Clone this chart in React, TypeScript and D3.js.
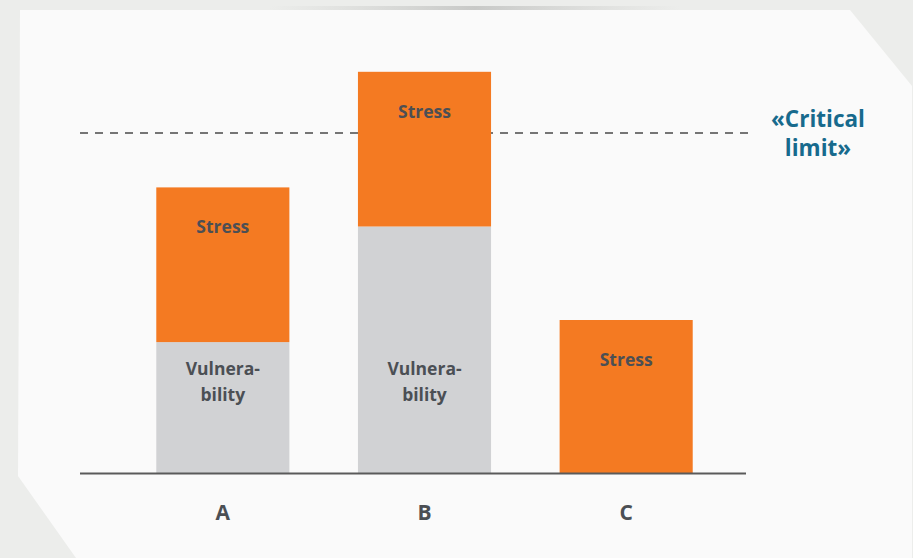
import React from 'react';
import * as d3 from 'd3';

// chart values (arbitrary units, critical limit = 10)
const categories = ['A', 'B', 'C'];
const vulnerability = [3.85, 7.25, 0];
const stress = [4.55, 4.55, 4.5];
const criticalLimit = 10;
const segmentLabels = ['Stress', 'Vulnera-', 'bility'];
const limitLabel = ['«Critical', 'limit»'];

const width = 913;
const height = 558;
const baseY = 473;

const ORANGE = '#f47a22';
const GREY = '#d1d2d4';
const TEXT = '#4b4f54';
const TEAL = '#176a8d';

function App() {
  const x = d3.scaleBand<string>()
    .domain(categories)
    .range([122, 727])
    .paddingInner(0.34)
    .paddingOuter(0.17);

  const y = d3.scaleLinear()
    .domain([0, criticalLimit])
    .range([baseY, 133]);

  const stack = categories.map((c, i) => ({
    cat: c,
    v0: 0,
    v1: vulnerability[i],
    s1: vulnerability[i] + stress[i],
  }));

  const paper = d3.line()([
    [20, 10], [850, 10], [912, 86], [912, height], [76, height], [18, 476],
  ]);

  const font = '"Open Sans", "DejaVu Sans", sans-serif';

  return (
    <svg width={width} height={height}
      style={{ position: 'absolute', left: 0, top: 0, background: '#ecedeb' }}>
      <defs>
        <linearGradient id="shadow" x1="0" x2="1">
          <stop offset="0" stopColor="#cfd0ce" stopOpacity={0} />
          <stop offset="0.5" stopColor="#c8c9c7" stopOpacity={1} />
          <stop offset="1" stopColor="#cfd0ce" stopOpacity={0} />
        </linearGradient>
      </defs>
      <rect x={270} y={6} width={410} height={4} fill="url(#shadow)" />
      <path d={paper ?? ''} fill="#fafafa" />

      {/* critical limit */}
      <line x1={80} x2={748} y1={y(criticalLimit)} y2={y(criticalLimit)}
        stroke="#4a4a4a" strokeWidth={1.3} strokeDasharray="8 7" />
      <text x={818} y={127} textAnchor="middle" fill={TEAL}
        fontFamily={font} fontWeight={700} fontSize={22.5}>
        <tspan x={818}>{limitLabel[0]}</tspan>
        <tspan x={818} dy={29}>{limitLabel[1]}</tspan>
      </text>

      {stack.map((d) => {
        const cx = (x(d.cat) ?? 0) + x.bandwidth() / 2;
        return (
          <g key={d.cat}>
            {d.v1 > 0 && (
              <rect x={x(d.cat)} width={x.bandwidth()} y={y(d.v1)}
                height={y(d.v0) - y(d.v1)} fill={GREY} />
            )}
            <rect x={x(d.cat)} width={x.bandwidth()} y={y(d.s1)}
              height={y(d.v1) - y(d.s1)} fill={ORANGE} />
            <text x={cx} y={y(d.s1) + 46}
              textAnchor="middle" fill={TEXT} fontFamily={font}
              fontWeight={700} fontSize={17.5}>{segmentLabels[0]}</text>
            {d.v1 > 0 && (
              <text x={cx} y={baseY - 98}
                textAnchor="middle" fill={TEXT} fontFamily={font}
                fontWeight={700} fontSize={17.5}>
                <tspan x={cx}>{segmentLabels[1]}</tspan>
                <tspan x={cx} dy={26}>{segmentLabels[2]}</tspan>
              </text>
            )}
            <text x={cx} y={520}
              textAnchor="middle" fill={TEXT} fontFamily={font}
              fontWeight={700} fontSize={21}>{d.cat}</text>
          </g>
        );
      })}

      {/* baseline */}
      <line x1={80} x2={746} y1={baseY + 0.5} y2={baseY + 0.5}
        stroke="#5a5a5a" strokeWidth={2} />
    </svg>
  );
}

export default App;
